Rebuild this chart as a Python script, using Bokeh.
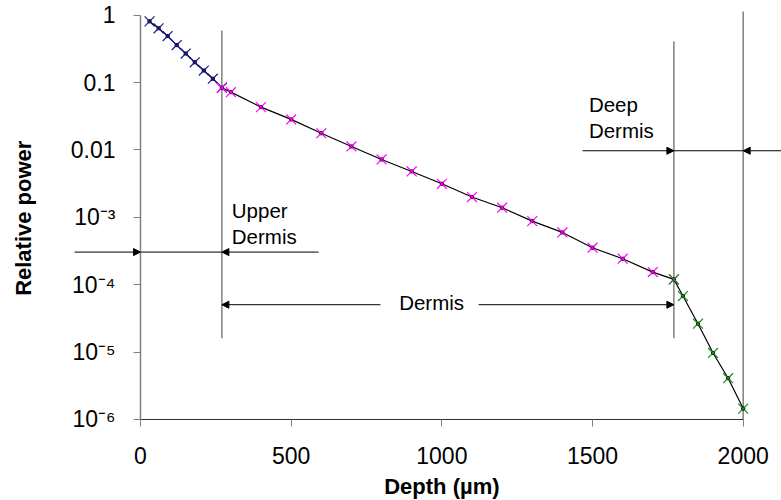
import math
from bokeh.plotting import figure
from bokeh.models import FixedTicker, Range1d, Arrow, NormalHead, Label
from bokeh.embed import file_html
from bokeh.resources import INLINE

# ---- data ----
upper_depth = [30, 60, 90, 120, 150, 180, 210, 240, 270]
upper_power = [0.81, 0.64, 0.49, 0.36, 0.27, 0.20, 0.151, 0.114, 0.084]

dermis_depth = [270, 300, 400, 500, 600, 700, 800, 900, 1000, 1100, 1200,
                1300, 1400, 1500, 1600, 1700, 1770]
dermis_power = [0.084, 0.0721, 0.0432, 0.0284, 0.0177, 0.01127, 0.00723,
                0.0048, 0.00315, 0.0020, 0.00139, 0.000879, 0.000597,
                0.000354, 0.000243, 0.000154, 0.00012]

deep_depth = [1770, 1800, 1850, 1900, 1950, 2000]
deep_power = [1.2e-4, 6.8e-5, 2.64e-5, 9.7e-6, 4.1e-6, 1.45e-6]

x_ticks = [0, 500, 1000, 1500, 2000]
y_ticks = [1e-6, 1e-5, 1e-4, 1e-3, 0.01, 0.1, 1]
y_tick_labels = ["10\u207b\u2076", "10\u207b\u2075", "10\u207b\u2074", "10\u207b\u00b3",
                 "0.01", "0.1", "1"]

x_title = "Depth (\u00b5m)"
y_title = "Relative power"

layer_bounds = [270, 1770, 2000]
layer_names = ["Upper\nDermis", "Dermis", "Deep\nDermis"]

FONT = "Liberation Sans"

# the plotting frame covers the whole canvas; axes sit at fixed data locations
p = figure(width=781, height=500, y_axis_type="log",
           x_range=Range1d(-464.6, 2127.1), y_range=Range1d(6.274e-8, 1.6525),
           output_backend="svg", toolbar_location=None,
           min_border_left=0, min_border_right=0, min_border_top=0,
           min_border_bottom=0)
p.outline_line_color = None
p.grid.visible = False
p.background_fill_color = "white"
p.border_fill_color = "white"

# axes
p.xaxis.fixed_location = y_ticks[0]
p.xaxis.ticker = FixedTicker(ticks=x_ticks, minor_ticks=[])
p.xaxis.bounds = (x_ticks[0], x_ticks[-1])
p.yaxis.fixed_location = x_ticks[0]
p.yaxis.ticker = FixedTicker(ticks=y_ticks, minor_ticks=[])
p.yaxis.bounds = (y_ticks[0], y_ticks[-1])
p.yaxis.major_label_overrides = dict(zip(y_ticks, y_tick_labels))

for ax in (p.xaxis[0], p.yaxis[0]):
    ax.major_tick_in = 0
    ax.major_tick_out = 7
    ax.minor_tick_line_color = None
    ax.major_tick_line_color = "#808080"
    ax.major_label_text_font = FONT
    ax.major_label_text_font_size = "23px"
    ax.major_label_text_color = "black"

p.xaxis.axis_line_color = "#303030"
p.yaxis.axis_line_color = "#808080"
p.yaxis.axis_line_width = 1.5
p.xaxis.major_label_standoff = 21
p.yaxis.major_label_standoff = 18

# axis titles, centred on the axis extents
title_kw = dict(text_font=FONT, text_font_size="22px", text_font_style="bold",
                text_color="black")
p.add_layout(Label(x=(x_ticks[0] + x_ticks[-1]) / 2, y=6.6e-8, text=x_title,
                   text_align="center", text_baseline="bottom", **title_kw))
p.add_layout(Label(x=-388, y=math.sqrt(y_ticks[0] * y_ticks[-1]) * 0.97, text=y_title,
                   angle=math.pi / 2, text_align="center", text_baseline="middle",
                   **title_kw))

# layer boundary lines
p.segment(x0=layer_bounds, y0=[1.6e-5, 1.6e-5, 1e-6],
          x1=layer_bounds, y1=[0.593, 0.407, 1.135],
          line_color="#808080", line_width=1.5)

# connecting line through all data
all_x = upper_depth + dermis_depth[1:] + deep_depth[1:]
all_y = upper_power + dermis_power[1:] + deep_power[1:]
p.line(all_x, all_y, line_color="black", line_width=1.2)
p.scatter(all_x, all_y, marker="square", size=3, color="black")

# series markers
p.scatter(upper_depth, upper_power, marker="x", size=14, line_color="#1a1a8c", line_width=1.2)
p.scatter(dermis_depth, dermis_power, marker="x", size=14, line_color="#ff00ff", line_width=1.2)
p.scatter(deep_depth, deep_power, marker="x", size=14, line_color="#1f8a1f", line_width=1.2)


def head():
    return NormalHead(size=7, line_color="black", fill_color="black", line_width=1)


def arrow(x0, x1, y):
    p.add_layout(Arrow(x_start=x0, y_start=y, x_end=x1, y_end=y,
                       end=head(), line_color="black", line_width=1))


# Upper dermis dimension arrows
y_up = 3.05e-4
arrow(-219, 0, y_up)
arrow(591, layer_bounds[0], y_up)
p.segment(x0=[0], y0=[y_up], x1=[layer_bounds[0]], y1=[y_up], line_color="black", line_width=1)

# Dermis arrows
y_d = 5.05e-5
arrow(796, layer_bounds[0], y_d)
arrow(1122, layer_bounds[1], y_d)

# Deep dermis arrows
y_dd = 0.00973
arrow(1467, layer_bounds[1], y_dd)
arrow(2127, layer_bounds[2], y_dd)
p.segment(x0=[layer_bounds[1]], y0=[y_dd], x1=[layer_bounds[2]], y1=[y_dd],
          line_color="black", line_width=1)

# labels
lab_kw = dict(text_font=FONT, text_font_size="20.5px", text_color="black",
              text_line_height=1.1)
p.add_layout(Label(x=303, y=1.84e-3, text=layer_names[0], text_align="left",
                   text_baseline="top", **lab_kw))
p.add_layout(Label(x=966, y=5.45e-5, text=layer_names[1], text_align="center",
                   text_baseline="middle", **lab_kw))
p.add_layout(Label(x=1488, y=0.0689, text=layer_names[2], text_align="left",
                   text_baseline="top", **lab_kw))

open("out.html", "w").write(file_html(p, INLINE))
